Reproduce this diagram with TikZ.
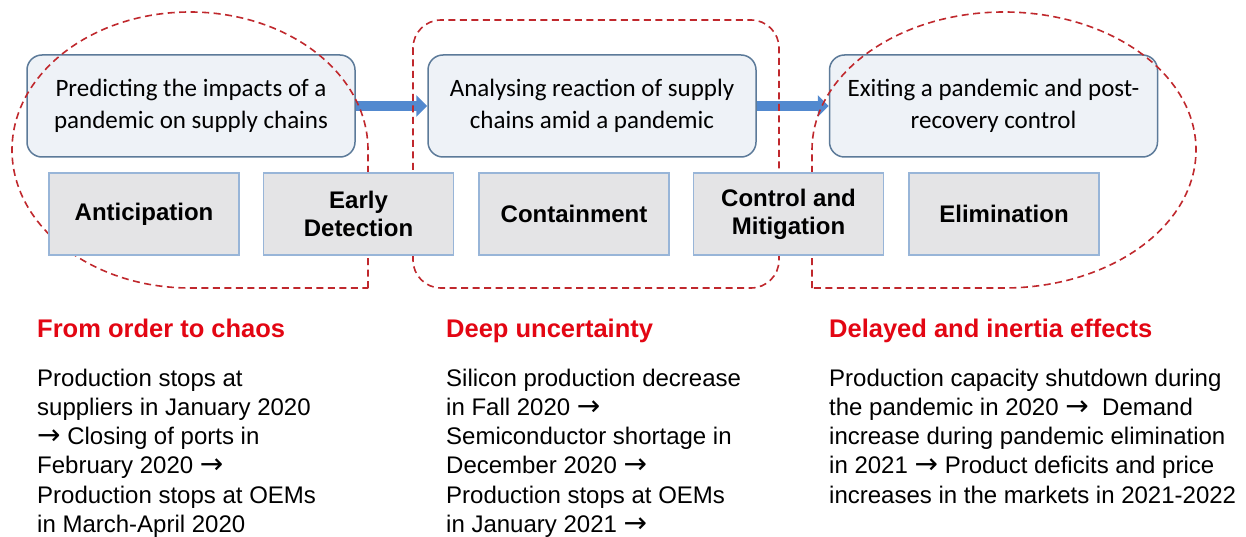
\documentclass[tikz,border=0pt]{standalone}
\usepackage{fontspec}
\setmainfont{Liberation Sans}
\newfontfamily\carlito{Carlito}
\newfontfamily\dejavu{DejaVu Sans}
\newcommand\rarr{{\dejavu\fontsize{28}{29.2}\selectfont →}}
\usetikzlibrary{arrows.meta}
\definecolor{topfill}{HTML}{EEF2F7}
\definecolor{topborder}{HTML}{5C7A99}
\definecolor{phasefill}{HTML}{E4E4E6}
\definecolor{phaseborder}{HTML}{98B5D8}
\definecolor{flowblue}{HTML}{5289CF}
\definecolor{headred}{HTML}{E30613}
\definecolor{dashred}{HTML}{C0282D}
\begin{document}
\begin{tikzpicture}[x=1pt,y=1pt,
  topbox/.style={draw=topborder, fill=topfill, line width=1.5pt, rounded corners=15pt,
    minimum width=328pt, minimum height=102pt, inner sep=0pt, align=center,
    font=\carlito\fontsize{25}{31.5}\selectfont},
  phase/.style={draw=phaseborder, fill=phasefill, line width=1.2pt,
    minimum width=190pt, minimum height=82pt, inner sep=0pt, align=center,
    font=\bfseries\fontsize{24}{28}\selectfont},
  flow/.style={draw=flowblue, line width=10pt, -{Triangle[width=21pt,length=11pt]}},
  group/.style={draw=dashred, line width=1.6pt, dash pattern=on 7pt off 4.5pt},
  heading/.style={anchor=base west, inner sep=0pt, text=headred,
    font=\bfseries\fontsize{25.5}{30}\selectfont},
  body/.style={anchor=north west, inner sep=0pt, align=left,
    font=\fontsize{24}{29.2}\selectfont}]
\useasboundingbox (0,0) rectangle (1246,-537);
\fill[white] (0,0) rectangle (1246,-537);

% top boxes
\node[topbox] (p1) at (191,-106) {Predicting the impacts of a\\pandemic on supply chains};
\node[topbox] (p2) at (592,-106) {Analysing reaction of supply\\chains amid a pandemic};
\node[topbox] (p3) at (993.5,-106) {Exiting a pandemic and post-\\recovery control};

% arrows
\draw[flow] (p1) -- (p2);
\draw[flow] (p2) -- (p3);

% dashed groupings
\draw[group] (368,-288) -- (368,-150)
  arc[start angle=0, end angle=270, x radius=178, y radius=138] -- cycle;
\draw[group, rounded corners=28pt] (413,-20) rectangle (779,-288);
\draw[group] (812,-288) -- (812,-150)
  arc[start angle=180, end angle=-90, x radius=192, y radius=138] -- cycle;

% phases
\node[phase] (a1) at (144,-214) {Anticipation};
\node[phase] (a2) at (358.5,-214) {Early\\Detection};
\node[phase] (a3) at (574,-214) {Containment};
\node[phase] (a4) at (788.5,-214) {Control and\\Mitigation};
\node[phase] (a5) at (1004,-214) {Elimination};

% headings
\node[heading] (h1) at (37,-337) {From order to chaos};
\node[heading] (h2) at (446,-337) {Deep uncertainty};
\node[heading] (h3) at (829,-337) {Delayed and inertia effects};

% bodies
\node[body] (t1) at (37,-365.6) {\strut Production stops at\\suppliers in January 2020\\\rarr{} Closing of ports in\\February 2020 \rarr\\Production stops at OEMs\\in March-April 2020};
\node[body] (t2) at (446,-365.6) {\strut Silicon production decrease\\in Fall 2020 \rarr\\Semiconductor shortage in\\December 2020 \rarr\\Production stops at OEMs\\in January 2021 \rarr};
\node[body] (t3) at (829,-365.6) {\strut Production capacity shutdown during\\the pandemic in 2020 \rarr\ \ Demand\\increase during pandemic elimination\\in 2021 \rarr{} Product deficits and price\\increases in the markets in 2021-2022};
\end{tikzpicture}
\end{document}
